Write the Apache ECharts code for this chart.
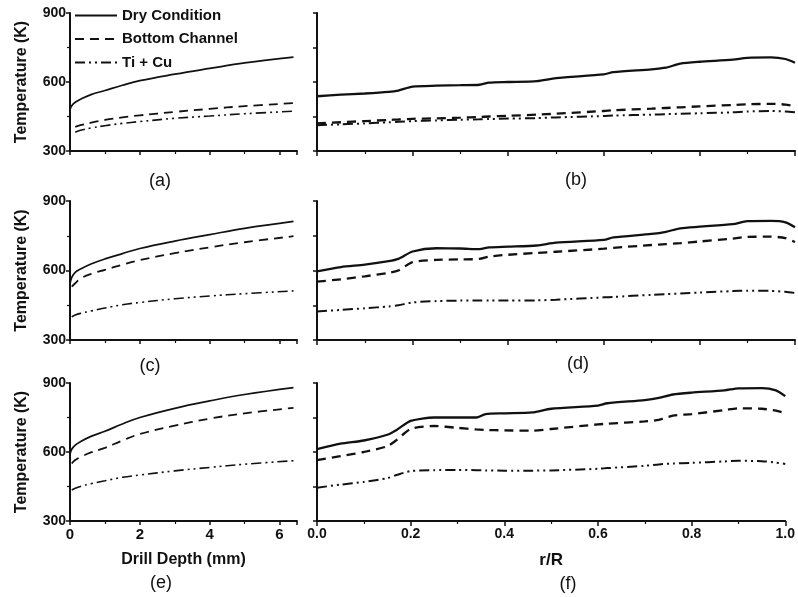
<!DOCTYPE html>
<html><head><meta charset="utf-8">
<script src="https://cdn.jsdelivr.net/npm/echarts@6/dist/echarts.min.js"></script>
<style>html,body{margin:0;padding:0;background:#fff}#c{width:798px;height:597px}</style>
</head><body><div id="c"></div>
<script>
const seriesNames = ['Dry Condition', 'Bottom Channel', 'Ti + Cu'];
const panelLabels = ['(a)', '(b)', '(c)', '(d)', '(e)', '(f)'];
const yTicks = [300, 600, 900];

// Drill depth (mm) sample positions, left column
const depthX = [0, 0.05, 0.15, 0.3, 0.6, 1, 1.5, 2, 3, 4, 5, 6.4];
const dryA = [480, 497, 512, 525, 545, 563, 586, 606, 634, 659, 683, 708];
const botA = [null, null, 405, 412, 423, 435, 446, 455, 470, 483, 495, 508];
const tiA  = [null, null, 382, 390, 400, 410, 420, 428, 442, 452, 462, 473];
const dryC = [540, 570, 592, 606, 628, 650, 673, 695, 727, 755, 782, 812];
const botC = [null, 530, 545, 565, 585, 603, 625, 645, 675, 700, 722, 748];
const tiC  = [null, 400, 408, 415, 425, 438, 452, 462, 478, 490, 500, 512];
const dryE = [590, 612, 630, 645, 668, 690, 722, 750, 790, 822, 850, 880];
const botE = [null, 550, 565, 578, 598, 618, 650, 678, 715, 745, 768, 792];
const tiE  = [null, 435, 442, 450, 462, 475, 490, 500, 518, 533, 547, 562];

// r/R sample positions, right column
const rX = [0, 0.05, 0.1, 0.15, 0.17, 0.2, 0.25, 0.3, 0.34, 0.36, 0.4, 0.46, 0.5, 0.6, 0.62, 0.7, 0.73, 0.76, 0.8, 0.87, 0.9, 0.95, 0.98, 1.0];
const dryB = [538, 545, 550, 557, 563, 580, 584, 586, 588, 597, 600, 604, 617, 633, 643, 655, 662, 680, 688, 697, 705, 707, 700, 684];
const botB = [420, 425, 430, 435, 437, 440, 442, 445, 448, 450, 453, 458, 462, 474, 477, 484, 487, 490, 494, 500, 503, 505, 502, 495];
const tiB  = [412, 416, 420, 425, 427, 430, 433, 436, 438, 439, 441, 443, 446, 452, 454, 458, 460, 462, 464, 468, 472, 474, 472, 468];
const dryD = [596, 615, 625, 640, 650, 682, 696, 695, 692, 700, 703, 708, 720, 732, 743, 758, 767, 782, 789, 800, 813, 814, 808, 787];
const botD = [552, 562, 575, 590, 600, 636, 646, 648, 650, 660, 668, 676, 681, 694, 698, 710, 714, 718, 725, 738, 745, 746, 740, 723];
const tiD  = [423, 430, 437, 445, 450, 462, 468, 470, 470, 470, 470, 471, 474, 484, 486, 495, 498, 501, 505, 511, 513, 512, 508, 503];
const dryF = [612, 636, 650, 675, 696, 735, 750, 750, 750, 765, 768, 772, 788, 802, 812, 826, 835, 850, 858, 868, 877, 878, 868, 843];
const botF = [565, 582, 600, 625, 652, 700, 713, 705, 698, 696, 694, 693, 700, 720, 723, 733, 740, 758, 765, 782, 790, 788, 780, 768];
const tiF  = [445, 458, 470, 486, 500, 517, 521, 522, 521, 520, 519, 519, 520, 527, 530, 540, 546, 550, 553, 559, 562, 560, 554, 548];

const FONT = 'Liberation Sans';
const INK = '#111';
const panels = [
  {x: depthX, ys: [dryA, botA, tiA], left: true},
  {x: rX, ys: [dryB, botB, tiB], left: false},
  {x: depthX, ys: [dryC, botC, tiC], left: true},
  {x: rX, ys: [dryD, botD, tiD], left: false},
  {x: depthX, ys: [dryE, botE, tiE], left: true},
  {x: rX, ys: [dryF, botF, tiF], left: false}
];
const rowTop = [13, 201, 383];
const rowH = [138, 139, 138];

const grids = [], xAxes = [], yAxes = [], series = [];
panels.forEach((p, i) => {
  const row = Math.floor(i / 2);
  const bottomRow = row === 2;
  grids.push(p.left
    ? {left: 70, width: 227, top: rowTop[row], height: rowH[row]}
    : {left: 317, width: 478, top: rowTop[row], height: rowH[row]});
  const axisLine = {show: true, lineStyle: {color: INK, width: 2}};
  const tick = {show: true, length: 4, lineStyle: {color: INK, width: 1.5}};
  const minorTick = {show: true, splitNumber: 2, length: 3, lineStyle: {color: INK, width: 1.2}};
  const lbl = {show: bottomRow, color: INK, fontFamily: FONT, fontWeight: 'bold', fontSize: 14, margin: 6};
  if (p.left) {
    xAxes.push({type: 'value', gridIndex: i, min: 0, max: 6.5, interval: 2,
      axisLine, axisTick: tick, minorTick, splitLine: {show: false},
      axisLabel: Object.assign({}, lbl, {showMaxLabel: false, fontSize: 15}),
      name: bottomRow ? 'Drill Depth (mm)' : '', nameLocation: 'middle', nameGap: 31,
      nameTextStyle: {color: INK, fontFamily: FONT, fontWeight: 'bold', fontSize: 16}});
    yAxes.push({type: 'value', gridIndex: i, min: 300, max: 900, interval: 300,
      axisLine, axisTick: tick, minorTick, splitLine: {show: false},
      axisLabel: {show: true, color: INK, fontFamily: FONT, fontWeight: 'bold', fontSize: 14, margin: 4},
      name: 'Temperature (K)', nameLocation: 'middle', nameGap: 40,
      nameTextStyle: {color: INK, fontFamily: FONT, fontWeight: 'bold', fontSize: 16}});
  } else {
    xAxes.push({type: 'value', gridIndex: i, min: 0, max: 1, interval: 0.2,
      axisLine, axisTick: {show: true, length: 5, lineStyle: {color: INK, width: 1.5}}, minorTick, splitLine: {show: false},
      axisLabel: Object.assign({}, lbl, {formatter: v => v.toFixed(1)}),
      name: bottomRow ? 'r/R' : '', nameLocation: 'middle', nameGap: 31,
      nameTextStyle: {color: INK, fontFamily: FONT, fontWeight: 'bold', fontSize: 17}});
    yAxes.push({type: 'value', gridIndex: i, min: 300, max: 900, interval: 150,
      axisLine, axisTick: tick, splitLine: {show: false}, axisLabel: {show: false}});
  }
  const styles = [
    {type: 'solid', width: p.left ? 1.7 : 2.3},
    {type: [9, 6], width: p.left ? 1.8 : 2.3},
    {type: [10, 4, 2, 4, 2, 4], width: p.left ? 1.6 : 2}
  ];
  p.ys.forEach((ys, k) => {
    series.push({
      name: seriesNames[k], type: 'line', xAxisIndex: i, yAxisIndex: i,
      data: p.x.map((x, j) => [x, ys[j]]),
      symbol: 'none', smooth: p.left ? 0.4 : 0.25, connectNulls: false,
      lineStyle: Object.assign({color: INK}, styles[k]),
      itemStyle: {color: INK},
      animation: false, silent: true
    });
  });
});

const labelPos = [[160, 181], [576, 180], [150, 366], [578, 364], [161, 583], [568, 584]];
const graphics = panelLabels.map((t, i) => ({
  type: 'text', x: labelPos[i][0], y: labelPos[i][1],
  style: {text: t, fill: INK, font: '18px ' + FONT, textAlign: 'center', textVerticalAlign: 'middle'}
}));

const chart = echarts.init(document.getElementById('c'), null, {renderer: 'canvas'});
chart.setOption({
  animation: false,
  backgroundColor: '#fff',
  grid: grids, xAxis: xAxes, yAxis: yAxes, series,
  legend: {
    data: seriesNames, orient: 'vertical', left: 69, top: 3,
    itemWidth: 42, itemHeight: 14, itemGap: 8.5, selectedMode: false,
    itemStyle: {opacity: 0},
    lineStyle: {width: 2},
    textStyle: {color: INK, fontFamily: FONT, fontWeight: 'bold', fontSize: 15, lineHeight: 14}
  },
  graphic: graphics
});
</script></body></html>
